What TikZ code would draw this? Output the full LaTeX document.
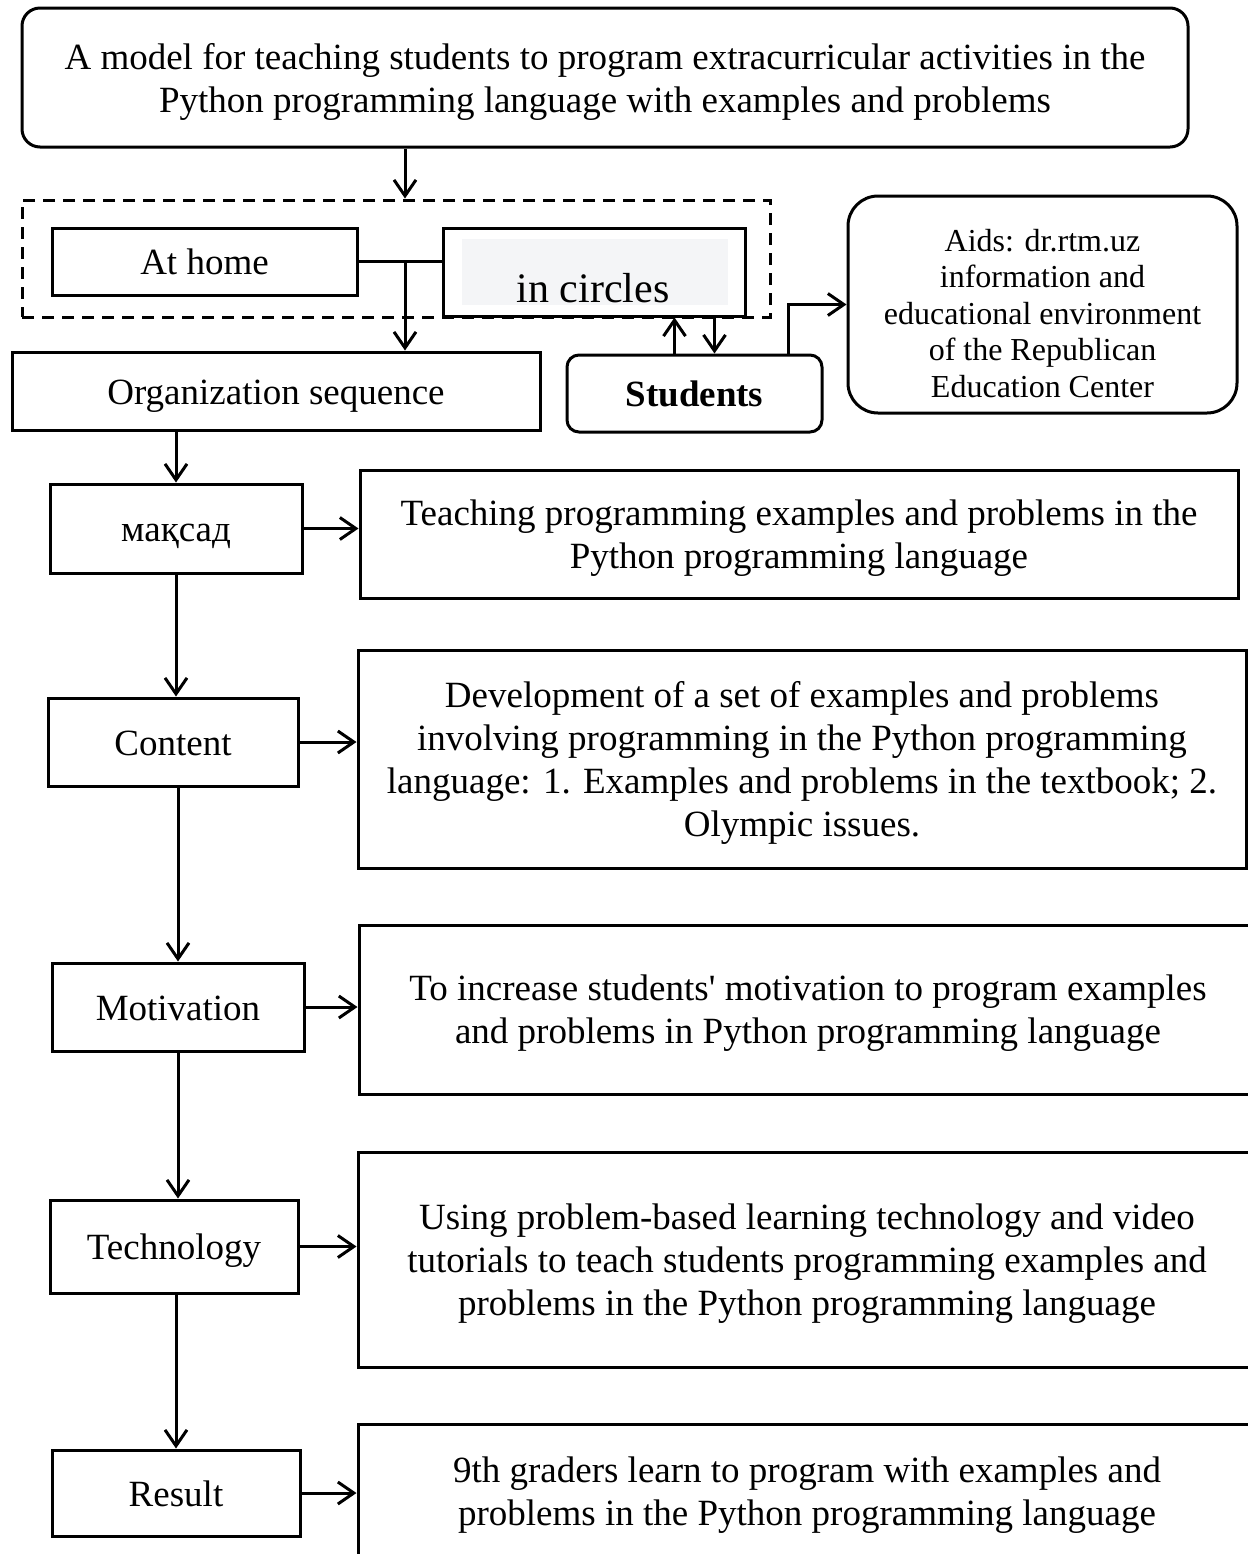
\documentclass[tikz,border=0pt]{standalone}
\usepackage{fontspec}
\setmainfont{Liberation Serif}
\usetikzlibrary{arrows.meta}
\definecolor{paper}{HTML}{F4F5F7}

\begin{document}
\begin{tikzpicture}[x=0.5pt,y=-0.5pt,line width=1.5pt,
  >={Straight Barb[length=8pt,width=11pt]},
  box/.style={draw,align=center,inner sep=0pt,font=\fontsize{18.5}{21.5}\selectfont,
    text depth=-1pt},
  word/.style={box,execute at begin node={\rule{0pt}{17pt}},text depth=4pt},
  roundbox/.style={box,rounded corners=9pt},
  small/.style={font=\fontsize{16}{18.3}\selectfont}]
\fill[white] (0,0) rectangle (1248,1554);
\useasboundingbox (0,0) rectangle (1248,1554);

% model and where it is held
\node[roundbox,minimum width=583pt,minimum height=69.5pt] (model) at (605,77.5)
  {A model for teaching students to program extracurricular activities in the\\
   Python programming language with examples and problems};
\node[draw,dash pattern=on 6pt off 4pt,inner sep=0pt,
  minimum width=374pt,minimum height=58.5pt] (place) at (396,258.5) {};
\node[word,minimum width=152.5pt,minimum height=33.5pt] (home) at (204.5,261.5) {At home};
\node[draw,minimum width=151pt,minimum height=44pt] (circles) at (594,272) {};
\node[fill=paper,minimum width=133pt,minimum height=33pt] (circlesbg) at (595,272) {};
\node[font=\fontsize{21}{24}\selectfont] (circlestext) at (593,288) {in circles};
\node[word,minimum width=264pt,minimum height=39pt] (org) at (276,391) {Organization sequence};
\node[word,rounded corners=6pt,minimum width=127.5pt,minimum height=38.5pt,
  font=\fontsize{18.5}{21.5}\selectfont\bfseries] (students) at (694.5,393.5) {Students};
\node[box,rounded corners=15pt,small,text height=93pt,text depth=0pt,
  minimum width=194.5pt,minimum height=108.5pt] (aids)
  at (1042.5,304.5) {Aids: dr.rtm.uz\\information and\\educational environment\\
  of the Republican\\Education Center};

% stages
\node[word,minimum width=126pt,minimum height=44.5pt] (goal) at (176,528.5) {мақсад};
\node[box,minimum width=439pt,minimum height=64pt] (teach) at (799,534)
  {Teaching programming examples and problems in the\\Python programming language};
\node[word,minimum width=125pt,minimum height=44pt] (content) at (173,742) {Content};
\node[box,minimum width=444pt,minimum height=109pt] (develop) at (802,759)
  {Development of a set of examples and problems\\involving programming in the Python programming\\
  language: 1. Examples and problems in the textbook; 2.\\Olympic issues.};
\node[word,minimum width=126pt,minimum height=44pt] (motiv) at (178,1007) {Motivation};
\node[box,minimum width=449pt,minimum height=84.5pt] (raise) at (808,1009.5)
  {To increase students\textquotesingle{} motivation to program examples\\and problems in Python programming language};
\node[word,minimum width=124pt,minimum height=46.5pt] (tech) at (174,1246.5) {Technology};
\node[box,minimum width=449pt,minimum height=107.5pt] (using) at (807,1259.5)
  {Using problem-based learning technology and video\\tutorials to teach students programming examples and\\
  problems in the Python programming language};
\node[word,minimum width=124pt,minimum height=43pt] (result) at (176,1493) {Result};
\node[box,minimum width=449pt,minimum height=67pt] (grade) at (807,1491)
  {9th graders learn to program with examples and\\problems in the Python programming language};

% connectors
\coordinate (split) at (405,262);
\coordinate (up) at ([xshift=-10pt]students.north);
\coordinate (down) at ([xshift=10pt]students.north);
\coordinate (tap) at ([xshift=47pt]students.north);
\draw[->] (model.south -| split) -- (place.north -| split);
\draw (home.east) -- (home.east -| circles.west);
\draw[->] (split) -- (split |- org.north);
\draw[->] (up) -- (up |- circles.south);
\draw[->] (down |- circles.south) -- (down);
\draw[->] (tap) |- (aids.west);
\draw[->] (org.south -| goal.north) -- (goal.north);
\draw[->] (goal.east) -- (goal.east -| teach.west);
\draw[->] (goal.south) -- (goal.south |- content.north);
\draw[->] (content.east) -- (content.east -| develop.west);
\draw[->] (content.south -| motiv.north) -- (motiv.north);
\draw[->] (motiv.east) -- (motiv.east -| raise.west);
\draw[->] (motiv.south) -- (motiv.south |- tech.north);
\draw[->] (tech.east) -- (tech.east -| using.west);
\draw[->] (tech.south -| result.north) -- (result.north);
\draw[->] (result.east) -- (result.east -| grade.west);
\end{tikzpicture}
\end{document}
